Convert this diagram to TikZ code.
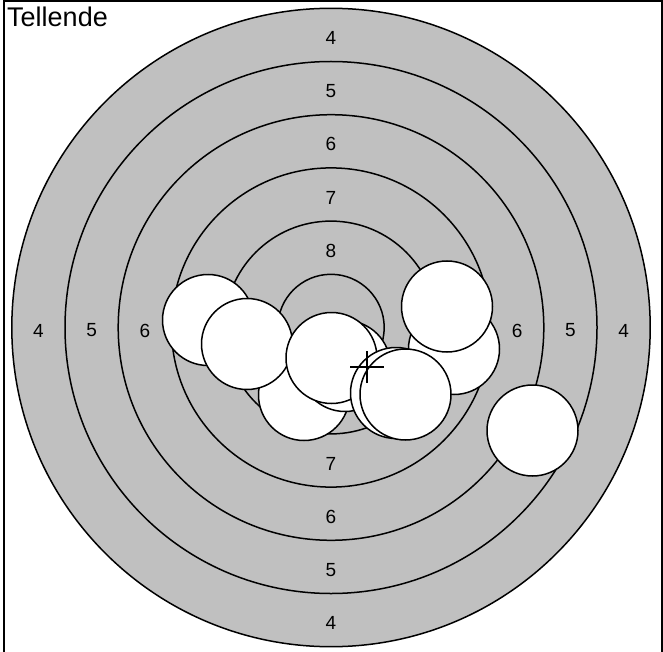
\documentclass[tikz,border=0pt]{standalone}
\usepackage{fontspec}
\setmainfont{Liberation Sans}
\usetikzlibrary{positioning}
\definecolor{targetRing}{RGB}{192,192,192}
\tikzset{
  ringline/.style={draw=black, line width=1.5pt},
  ringlabel/.style={font=\fontsize{19}{19}\selectfont, inner sep=0pt, text=black},
  shotmark/.style={circle, draw=black, fill=white, line width=1.5pt,
    minimum size=91pt, inner sep=0pt},
  aimcross/.style={draw=black, line width=1.5pt},
  framebox/.style={draw=black, line width=2pt},
  titlelabel/.style={font=\fontsize{27}{27}\selectfont, anchor=base west, inner sep=0pt},
}

\begin{document}
\begin{tikzpicture}[x=1pt, y=-1pt]
  \useasboundingbox (0,0) rectangle (663,652);
  \coordinate (ctr) at (331,327.5);

  % target face
  \fill[targetRing] (ctr) circle (319pt);
  \foreach \k in {1,...,6}
    \draw[ringline] (ctr) circle ({53.2*\k pt});

  % ring numbers
  \foreach \n in {4,...,8}
    \node[ringlabel] (top\n) at ([yshift={(9.5-\n)*53.2-3}]ctr) {\n};
  \foreach \n in {4,...,7}
    \node[ringlabel] (bot\n) at ([yshift={-(9.5-\n)*53.2-3}]ctr) {\n};
  \foreach \n in {4,...,6} {
    \node[ringlabel] (lft\n) at ([xshift={-(9.5-\n)*53.2}, yshift=-3]ctr) {\n};
    \node[ringlabel] (rgt\n) at ([xshift={(9.5-\n)*53.2}, yshift=-3]ctr) {\n};
  }

  % shots
  \node[shotmark] (shotA) at (208,320) {};
  \node[shotmark] (shotD) at (304,395) {};
  \node[shotmark] (shotB) at (247,344) {};
  \node[shotmark] (shotE) at (345,366) {};
  \node[shotmark] (shotC) at (331.5,358) {};
  \node[shotmark] (shotG) at (396,393) {};
  \node[shotmark] (shotH) at (454,349) {};
  \node[shotmark] (shotI) at (447,306.5) {};
  \node[shotmark] (shotF) at (405.5,394.5) {};
  \node[shotmark] (shotJ) at (532.5,430.5) {};

  % aiming cross
  \coordinate (aim) at (367,367);
  \draw[aimcross] ([xshift=-17pt]aim) -- ([xshift=17pt]aim);
  \draw[aimcross] ([yshift=-16pt]aim) -- ([yshift=16pt]aim);

  % frame and title
  \draw[framebox] (3.5,652) -- (3.5,1) -- (661.5,1) -- (661.5,652);
  \node[titlelabel] (title) at (7,27) {Tellende};
\end{tikzpicture}
\end{document}
